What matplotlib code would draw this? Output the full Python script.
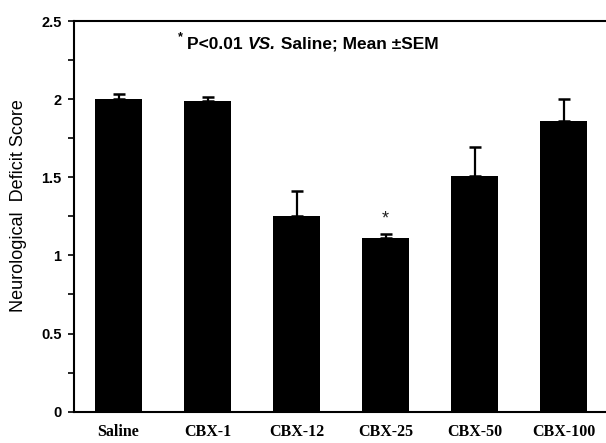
import numpy as np
import matplotlib
matplotlib.use("Agg")
import matplotlib.pyplot as plt
from matplotlib.offsetbox import TextArea, HPacker, AnchoredOffsetbox

groups = ["Saline", "CBX-1", "CBX-12", "CBX-25", "CBX-50", "CBX-100"]
mean_score = [2.00, 1.99, 1.25, 1.11, 1.51, 1.86]
sem_score = [0.03, 0.025, 0.16, 0.025, 0.185, 0.14]
significant = [False, False, False, True, False, False]

fig = plt.figure(figsize=(6.06, 4.43), dpi=100)
ax = fig.add_axes([74 / 606, 31.3 / 443, 534 / 606, 390.7 / 443])

x = np.arange(len(groups))
lower = np.zeros(len(groups))
ax.bar(x, mean_score, 0.52, color="black", zorder=2)
ax.errorbar(x, mean_score, yerr=[lower, sem_score], fmt="none",
            ecolor="black", elinewidth=1.6, capsize=4, capthick=1.8, zorder=1)

for i, sig in enumerate(significant):
    if sig:
        ax.text(x[i], mean_score[i] + sem_score[i] + 0.045, "*",
                ha="center", va="bottom", fontsize=13,
                family="Liberation Sans", color="#222222")

ax.set_xlim(-0.5, 5.5)
ax.set_ylim(0, 2.5)
ax.set_yticks(np.arange(0, 2.51, 0.5))
ax.set_yticklabels(["0", "0.5", "1", "1.5", "2", "2.5"])
ax.set_yticks(np.arange(0.25, 2.5, 0.5), minor=True)
ax.set_xticks(x)
ax.set_xticklabels(groups, family="Liberation Serif", fontweight="bold",
                   fontsize=11.5)
for lab in ax.get_yticklabels():
    lab.set_family("Liberation Sans")
    lab.set_fontweight("bold")
    lab.set_fontsize(10.5)

ax.tick_params(axis="x", length=0, pad=9)
ax.tick_params(axis="y", which="both", direction="out", length=4,
               width=1.2, pad=5)
ax.set_ylabel("Neurological  Deficit Score", family="Liberation Sans",
              fontsize=13)
ax.yaxis.set_label_coords(-0.088, 0.528)

for side in ["left", "top", "bottom"]:
    ax.spines[side].set_linewidth(1.5)
ax.spines["right"].set_visible(False)

# significance note above the bars
bold = dict(family="Liberation Sans", fontsize=12.5, fontweight="bold")
ax.text(0.1985, 0.958, "*", transform=ax.transAxes, ha="center",
        va="center", family="Liberation Sans", fontsize=9, fontweight="bold")
part1 = TextArea("P<0.01 ", textprops=bold)
part2 = TextArea("VS.", textprops=dict(bold, style="italic"))
part3 = TextArea(" Saline; Mean \u00b1SEM", textprops=bold)
note = HPacker(children=[part1, part2, part3], align="baseline",
               pad=0, sep=0)
box = AnchoredOffsetbox(loc="center left", child=note, frameon=False,
                        bbox_to_anchor=(0.2116, 0.941),
                        bbox_transform=ax.transAxes, borderpad=0, pad=0)
ax.add_artist(box)

fig.savefig("out.png", dpi=100)
